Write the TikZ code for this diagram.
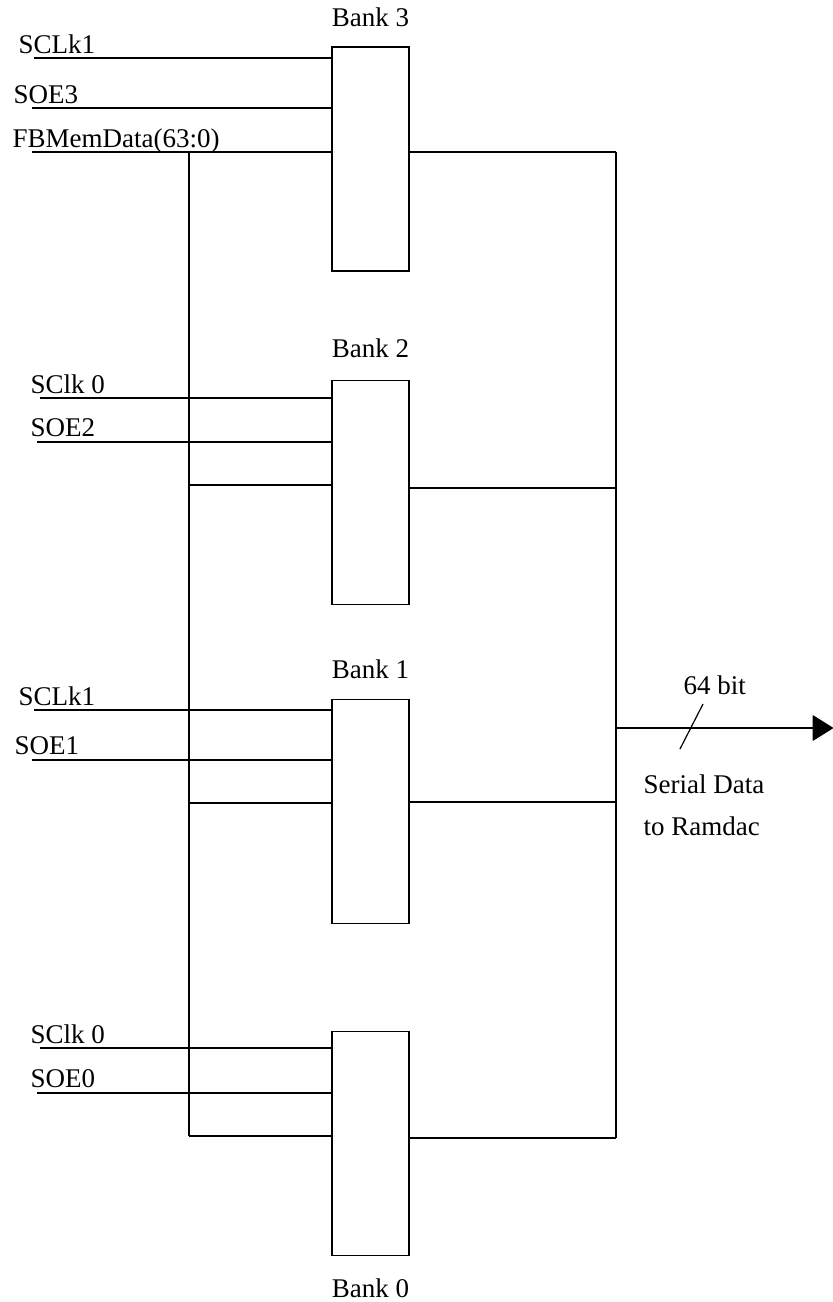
\documentclass[tikz,border=0pt]{standalone}
\usepackage{fontspec}
\setmainfont{Liberation Serif}
\usetikzlibrary{positioning,arrows.meta}

\begin{document}
\begin{tikzpicture}[
  x=0.5pt, y=-0.5pt,
  font=\fontsize{13.5}{16}\selectfont,
  line width=0.6pt,
  >={Triangle[length=10.5pt,width=13pt,round]},
  bank/.style={draw, minimum width=38.5pt, minimum height=112pt, inner sep=0pt},
  banklabel/.style={inner sep=0pt},
  sig/.style={inner sep=0pt, anchor=base west},
  wire/.style={line width=0.6pt}
  ]
  \useasboundingbox (0,0) rectangle (833,1302);
  % Memory banks
  \node[bank] (b3) at (370.5,159) {};
  \node[bank, below=54pt of b3] (b2) {};
  \node[bank, below=47pt of b2] (b1) {};
  \node[bank, below=53.5pt of b1] (b0) {};
  \node[banklabel, above=9.5pt of b3] (l3) {Bank 3};
  \node[banklabel, above=10.5pt of b2] (l2) {Bank 2};
  \node[banklabel, above=9.5pt of b1] (l1) {Bank 1};
  \node[banklabel, below=11pt of b0] (l0) {Bank 0};

  % Bank 3 inputs
  \node[sig] (clk3) at (18,53) {SCLk1};
  \node[sig] (oe3) at (13,103) {SOE3};
  \node[sig] (fb) at (12,147) {FBMemData(63:0)};
  \coordinate (clk3w) at (34,58);
  \coordinate (oe3w) at (32,108);
  \coordinate (fbw) at (32,152);
  % Bank 2 inputs
  \node[sig] (clk2) at (30,393) {SClk 0};
  \node[sig] (oe2) at (30,436) {SOE2};
  \coordinate (clk2w) at (40,398);
  \coordinate (oe2w) at (37,442);
  % Bank 1 inputs
  \node[sig] (clk1) at (18,705) {SCLk1};
  \node[sig] (oe1) at (14,754) {SOE1};
  \coordinate (clk1w) at (34,710);
  \coordinate (oe1w) at (32,760);
  % Bank 0 inputs
  \node[sig] (clk0) at (30,1043) {SClk 0};
  \node[sig] (oe0) at (30,1087) {SOE0};
  \coordinate (clk0w) at (40,1048);
  \coordinate (oe0w) at (37,1093);

  % data bus taps
  \coordinate (bus3) at (189,152);
  \coordinate (bus2) at (189,485);
  \coordinate (bus1) at (189,803);
  \coordinate (bus0) at (189,1136);
  % serial outputs
  \coordinate (out3) at (616,152);
  \coordinate (out2) at (616,488);
  \coordinate (out1) at (616,802);
  \coordinate (out0) at (616,1138);
  \coordinate (tap) at (616,728);
  \coordinate (ramdac) at (833,728);

  % edges
  \draw[wire] (clk3w) -- (clk3w -| b3.west);
  \draw[wire] (oe3w) -- (oe3w -| b3.west);
  \draw[wire] (fbw) -- (fbw -| b3.west);
  \draw[wire] (clk2w) -- (clk2w -| b2.west);
  \draw[wire] (oe2w) -- (oe2w -| b2.west);
  \draw[wire] (clk1w) -- (clk1w -| b1.west);
  \draw[wire] (oe1w) -- (oe1w -| b1.west);
  \draw[wire] (clk0w) -- (clk0w -| b0.west);
  \draw[wire] (oe0w) -- (oe0w -| b0.west);
  \draw[wire] (bus3) -- (bus0);
  \draw[wire] (bus2) -- (bus2 -| b2.west);
  \draw[wire] (bus1) -- (bus1 -| b1.west);
  \draw[wire] (bus0) -- (bus0 -| b0.west);
  \draw[wire] (out3 -| b3.east) -- (out3);
  \draw[wire] (out2 -| b2.east) -- (out2);
  \draw[wire] (out1 -| b1.east) -- (out1);
  \draw[wire] (out0 -| b0.east) -- (out0);
  \draw[wire] (out3) -- (out0);
  \draw[wire, ->] (tap) -- (ramdac);
  \draw[wire] (680,749) -- (703,704);
  \node[sig] (width) at (683,694) {64 bit};
  \node[sig] (ser) at (643,793) {Serial Data};
  \node[sig] (ram) at (643,835) {to Ramdac};
\end{tikzpicture}
\end{document}
